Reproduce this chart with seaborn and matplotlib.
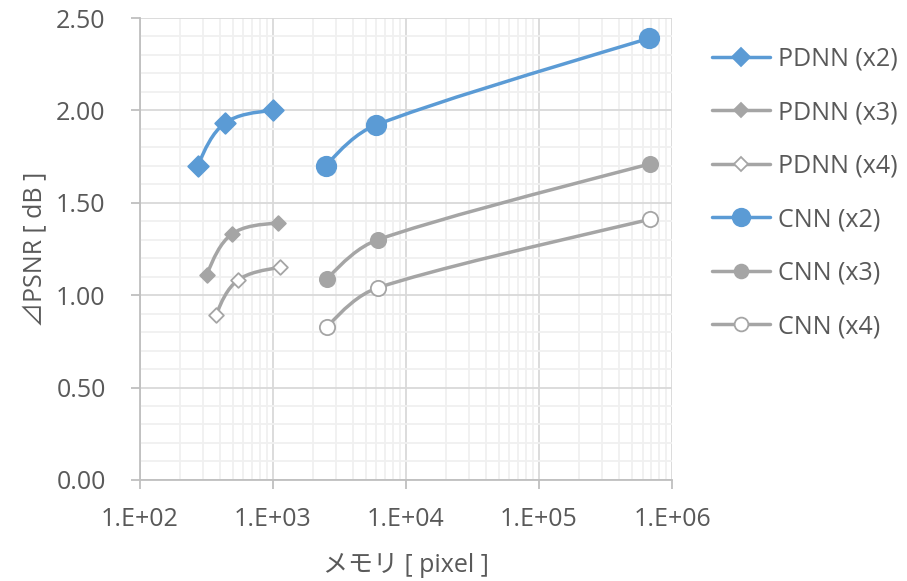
import numpy as np
import matplotlib
matplotlib.use("Agg")
import matplotlib.pyplot as plt
from matplotlib.path import Path
from matplotlib.patches import PathPatch
from matplotlib.lines import Line2D
from matplotlib.ticker import LogLocator, MultipleLocator, FormatStrFormatter
import seaborn as sns

# data
pdnn_x2_mem = [273, 435, 1000]
pdnn_x2_psnr = [1.70, 1.93, 2.00]
pdnn_x3_mem = [319, 492, 1090]
pdnn_x3_psnr = [1.11, 1.33, 1.39]
pdnn_x4_mem = [373, 545, 1130]
pdnn_x4_psnr = [0.89, 1.08, 1.15]
cnn_x2_mem = [2500, 5940, 671000]
cnn_x2_psnr = [1.70, 1.92, 2.39]
cnn_x3_mem = [2570, 6170, 680000]
cnn_x3_psnr = [1.09, 1.30, 1.71]
cnn_x4_mem = [2570, 6170, 680000]
cnn_x4_psnr = [0.83, 1.04, 1.41]

labels = ["PDNN (x2)", "PDNN (x3)", "PDNN (x4)", "CNN (x2)", "CNN (x3)", "CNN (x4)"]

sns.set_theme(style="white")
plt.rcParams['font.family'] = ['Open Sans', 'Noto Sans CJK JP', 'DejaVu Sans']

blue = '#5B9BD5'
gray = '#A5A5A5'
txt = '#595959'

series = [
    (pdnn_x2_mem, pdnn_x2_psnr, blue, 'D', blue, 10.5),
    (pdnn_x3_mem, pdnn_x3_psnr, gray, 'D', gray, 7.5),
    (pdnn_x4_mem, pdnn_x4_psnr, gray, 'D', 'white', 7.5),
    (cnn_x2_mem, cnn_x2_psnr, blue, 'o', blue, 14),
    (cnn_x3_mem, cnn_x3_psnr, gray, 'o', gray, 11),
    (cnn_x4_mem, cnn_x4_psnr, gray, 'o', 'white', 11),
]

fig = plt.figure(figsize=(9.07, 5.81), dpi=100)
ax = fig.add_axes([0.154, 0.174, 0.587, 0.795])
ax.set_xscale('log')
ax.set_xlim(1e2, 1e6)
ax.set_ylim(0, 2.5)


def smooth_path(xs, ys):
    # excel-like smoothed line, bezier control points worked out on screen
    P = ax.transData.transform(np.column_stack([xs, ys]))
    n = len(P)
    verts = [P[0]]
    codes = [Path.MOVETO]

    def ctrl(t, d):
        t = t / 6
        ln = np.hypot(*t)
        if ln > d / 3:
            t = t * (d / 3) / ln
        return t

    for i in range(n - 1):
        p1, p2 = P[i], P[i + 1]
        d12 = np.hypot(*(p2 - p1))
        c1 = p1 + ctrl(p2 - P[i - 1], d12) if i > 0 else None
        c2 = p2 - ctrl(P[i + 2] - p1, d12) if i + 2 < n else None
        if c1 is None and c2 is None:
            c1, c2 = p1 + (p2 - p1) / 3, p2 - (p2 - p1) / 3
        elif c1 is None:
            c1 = p1 + (c2 - p1) / 2
        elif c2 is None:
            c2 = p2 + (c1 - p2) / 2
        verts += [c1, c2, p2]
        codes += [Path.CURVE4] * 3
    verts = ax.transData.inverted().transform(np.array(verts))
    return Path(verts, codes)


handles = []
for (xs, ys, col, mk, fc, ms), lab in zip(series, labels):
    patch = PathPatch(smooth_path(xs, ys), facecolor='none', edgecolor=col,
                      lw=2.5, transform=ax.transData, zorder=3, capstyle='round')
    ax.add_patch(patch)
    sns.scatterplot(x=xs, y=ys, ax=ax, marker=mk, s=ms ** 2, color=fc,
                    edgecolor=col, linewidth=1.3, zorder=4, legend=False)
    handles.append(Line2D([0], [0], color=col, lw=2.5, marker=mk,
                          markersize=ms * 0.9, markerfacecolor=fc,
                          markeredgecolor=col, markeredgewidth=1.3,
                          solid_capstyle='round'))

ax.xaxis.set_major_locator(LogLocator(base=10, numticks=10))
ax.xaxis.set_minor_locator(LogLocator(base=10, subs=np.arange(2, 10), numticks=20))
ax.xaxis.set_major_formatter(plt.FuncFormatter(lambda v, p: '1.E+%02d' % int(round(np.log10(v)))))
ax.xaxis.set_minor_formatter(plt.NullFormatter())
ax.yaxis.set_major_locator(MultipleLocator(0.5))
ax.yaxis.set_minor_locator(MultipleLocator(0.1))
ax.yaxis.set_major_formatter(FormatStrFormatter('%.2f'))

ax.grid(True, which='major', color='#D9D9D9', lw=1.3)
ax.grid(True, which='minor', color='#F0F0F0', lw=1.3)
ax.set_axisbelow(True)
for s in ['top', 'right']:
    ax.spines[s].set_visible(False)
for s in ['bottom', 'left']:
    ax.spines[s].set_color('#BFBFBF')
    ax.spines[s].set_linewidth(1.3)

ax.tick_params(axis='x', which='major', direction='out', length=6.5, color='#BFBFBF',
               width=1.3, labelsize=18, labelcolor=txt, pad=13, bottom=True)
ax.tick_params(axis='y', which='major', direction='out', length=6.5, color='#BFBFBF',
               width=1.3, labelsize=18, labelcolor=txt, pad=18, left=True)
ax.tick_params(which='minor', length=0)

ax.set_xlabel('メモリ [ pixel ]', fontsize=18, color=txt, labelpad=15)
ax.set_ylabel('⊿PSNR [ dB ]', fontsize=18, color=txt, labelpad=6)

ax.legend(handles, labels, loc='upper left', bbox_to_anchor=(1.075, 0.938),
          frameon=False, fontsize=18, labelcolor=txt, handlelength=2.32,
          handletextpad=0.32, labelspacing=1.14, borderaxespad=0, borderpad=0)

fig.savefig('out.png', dpi=100)
